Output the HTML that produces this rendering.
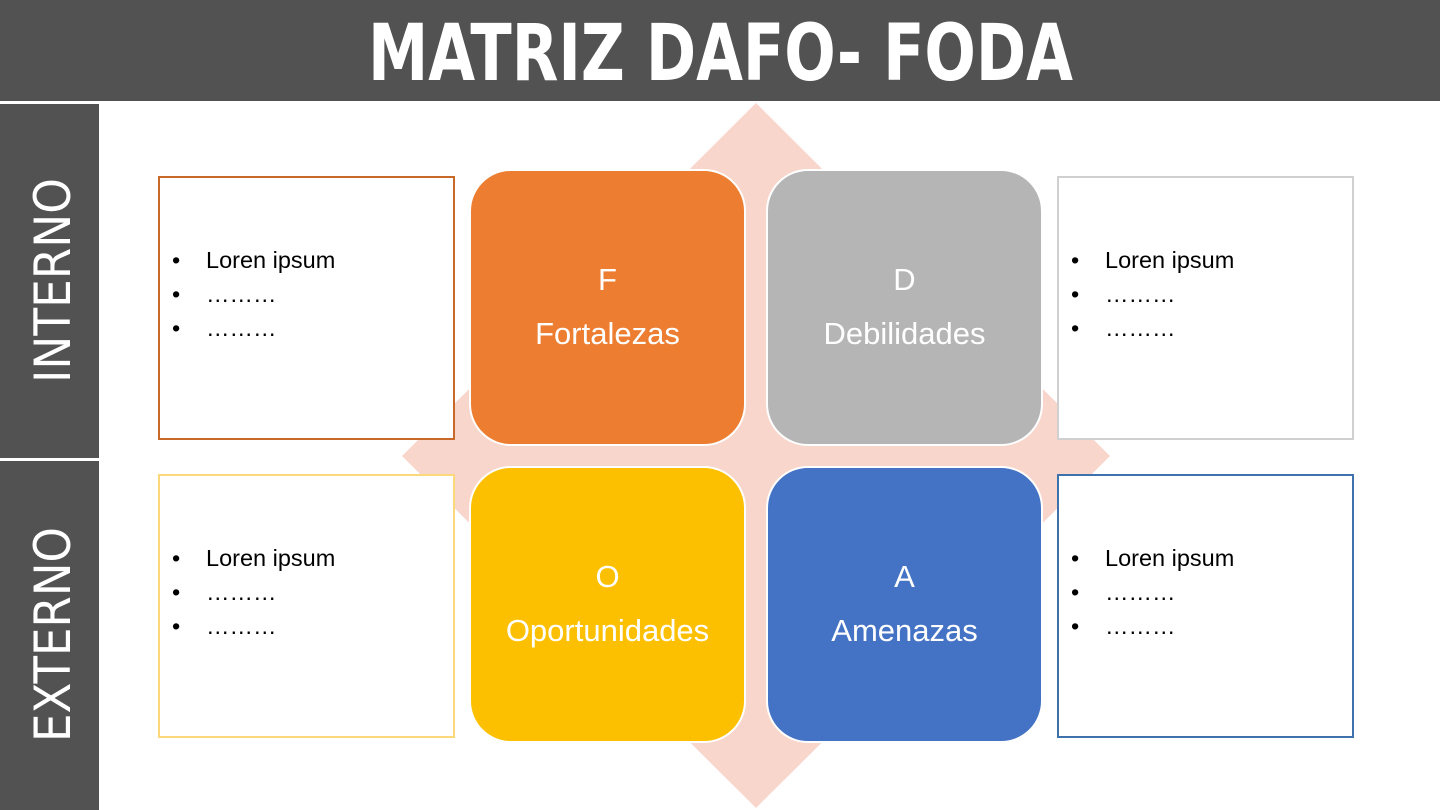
<!DOCTYPE html>
<html><head><style>
body{margin:0;width:1440px;height:810px;position:relative;background:#fff;overflow:hidden;font-family:"Liberation Sans",sans-serif}
.abs{position:absolute;box-sizing:border-box}
.tile{position:absolute;width:277px;height:277px;border-radius:42px;border:2px solid #fff;color:#fff;font-size:31px;text-align:center;box-sizing:border-box}
.tile div{position:absolute;left:0;right:0}
.box{position:absolute;width:297px;height:264px;border:2px solid;box-sizing:border-box;background:#fff}
.box ul{margin:0;padding:0;list-style:none;position:absolute;left:12px;top:65px;font-size:23.5px;line-height:34px;color:#000}
.box li:before{content:"•";display:inline-block;width:34px}
</style></head><body>
<div class="abs" style="left:0;top:0;width:1440px;height:101px;background:#525252"></div>
<svg class="abs" style="left:0;top:0" width="1440" height="810">
<text x="368" y="80" textLength="705" lengthAdjust="spacingAndGlyphs" font-family="DejaVu Sans" font-weight="bold" font-size="78" fill="#fff">MATRIZ DAFO- FODA</text>
<rect x="0" y="104" width="99" height="354" fill="#525252"/>
<rect x="0" y="461" width="99" height="349" fill="#525252"/>
<text transform="translate(70,383) rotate(-90)" textLength="205" lengthAdjust="spacingAndGlyphs" font-family="DejaVu Sans" font-size="50" fill="#fff">INTERNO</text>
<text transform="translate(70,742) rotate(-90)" textLength="215" lengthAdjust="spacingAndGlyphs" font-family="DejaVu Sans" font-size="50" fill="#fff">EXTERNO</text>
<polygon points="756,103 1110,456 756,808 402,456" fill="#f8d6cb"/>
</svg>
<div class="box" style="left:158px;top:176px;border-color:#c8692a"><ul><li>Loren ipsum</li><li>………</li><li>………</li></ul></div>
<div class="box" style="left:158px;top:474px;border-color:#fbd97a"><ul><li>Loren ipsum</li><li>………</li><li>………</li></ul></div>
<div class="box" style="left:1057px;top:176px;border-color:#d0d0d0"><ul><li>Loren ipsum</li><li>………</li><li>………</li></ul></div>
<div class="box" style="left:1057px;top:474px;border-color:#3e72ad"><ul><li>Loren ipsum</li><li>………</li><li>………</li></ul></div>
<div class="tile" style="left:469px;top:169px;background:#ed7d31"><div style="top:91px">F</div><div style="top:145px">Fortalezas</div></div>
<div class="tile" style="left:766px;top:169px;background:#b5b5b5"><div style="top:91px">D</div><div style="top:145px">Debilidades</div></div>
<div class="tile" style="left:469px;top:466px;background:#fdc000"><div style="top:91px">O</div><div style="top:145px">Oportunidades</div></div>
<div class="tile" style="left:766px;top:466px;background:#4472c4"><div style="top:91px">A</div><div style="top:145px">Amenazas</div></div>
</body></html>
